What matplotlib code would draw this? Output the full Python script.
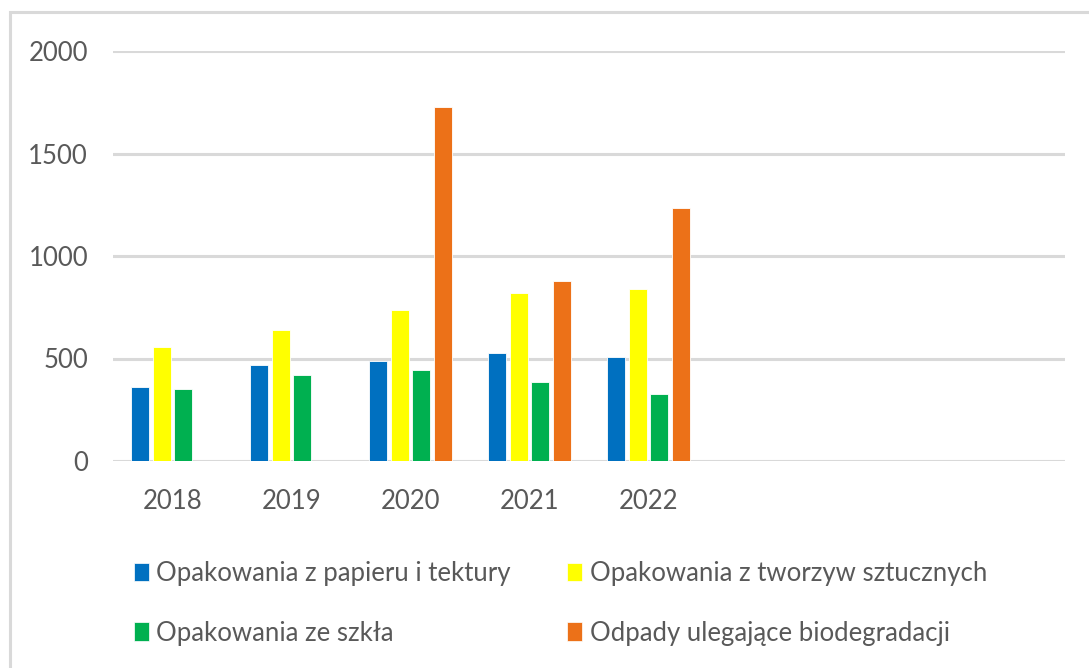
import numpy as np
import matplotlib
matplotlib.use('Agg')
import matplotlib.pyplot as plt
from matplotlib import font_manager
from matplotlib.patches import Patch, Rectangle

names = {f.name for f in font_manager.fontManager.ttflist}
if 'Liberation Sans Narrow' in names:
    fam, fs = 'Liberation Sans Narrow', 20
else:
    fam, fs = 'Lato', 18.5
plt.rcParams['font.family'] = [fam, 'DejaVu Sans']

# dane
years = ['2018', '2019', '2020', '2021', '2022']
n_slots = 8   # os ma 8 miejsc kategorii, 3 ostatnie puste
papier = [359, 467, 489, 525, 507]
plastik = [558, 640, 735, 821, 838]
szklo = [349, 418, 446, 384, 325]
bio = [np.nan, np.nan, 1727, 880, 1235]

labels = ['Opakowania z papieru i tektury', 'Opakowania z tworzyw sztucznych',
          'Opakowania ze szkła', 'Odpady ulegające biodegradacji']
colors = ['#0070C0', '#FFFF00', '#00B050', '#EC7118']
series = [papier, plastik, szklo, bio]

txt = '#595959'
grid = '#D9D9D9'

fig = plt.figure(figsize=(10.89, 6.68), dpi=100)
ax = fig.add_axes([113/1089, 1-461/668, (1065-113)/1089, 410/668])

x = np.arange(len(years))
step = 0.18
w = 0.152
for i, (vals, c) in enumerate(zip(series, colors)):
    ax.bar(x + (i-1.5)*step, vals, width=w, color=c, edgecolor='white', linewidth=0.6, zorder=3)

ax.set_xlim(-0.5, n_slots-0.5)
ax.set_ylim(0, 2000)
ax.set_yticks([0, 500, 1000, 1500, 2000])
ax.set_xticks(x)
ax.set_xticklabels(years)
ax.yaxis.grid(True, color=grid, linewidth=2.2, zorder=0)
ax.set_axisbelow(True)
for s in ax.spines.values():
    s.set_visible(False)
ax.tick_params(axis='both', length=0, labelsize=fs, labelcolor=txt)
ax.tick_params(axis='x', pad=20)
ax.tick_params(axis='y', pad=18)
for t in ax.get_yticklabels():
    t.set_clip_on(False)

# ramka obszaru wykresu
fig.patches.append(Rectangle((10/1089, -0.2), 1.2, 1.2-12/668, transform=fig.transFigure,
                             fill=False, edgecolor=grid, linewidth=2.2))

order = [0, 2, 1, 3]
handles = [Patch(facecolor=colors[k], edgecolor='white', linewidth=0.5) for k in order]
fig.legend(handles, [labels[k] for k in order], ncol=2, loc='upper left',
           bbox_to_anchor=(121/1089, 1-548/668), frameon=False, fontsize=fs,
           handlelength=0.58, handleheight=0.72, handletextpad=0.3, borderpad=0,
           columnspacing=2.2, labelspacing=1.35, labelcolor=txt)

fig.savefig('out.png', dpi=100, facecolor='white')
